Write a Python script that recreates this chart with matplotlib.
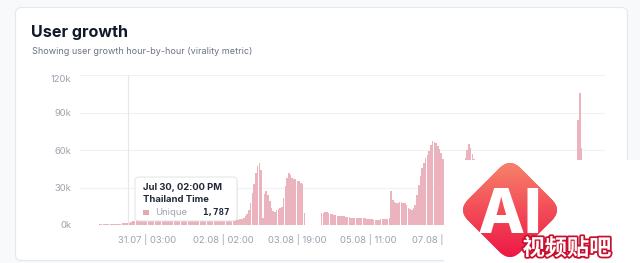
import numpy as np
import matplotlib.pyplot as plt
from matplotlib.patches import FancyBboxPatch, Rectangle
from matplotlib.transforms import Affine2D
import matplotlib.patheffects as pe

plt.rcParams['font.family'] = ['Inter', 'DejaVu Sans']

# hourly unique users (one value per bar)
unique_users = [
    0, 0, 0, 0, 0, 0, 0, 200, 300, 300,
    400, 500, 600, 600, 700, 700, 800, 800, 900, 800,
    900, 1000, 1000, 1100, 1300, 1400, 1600, 1787, 2000, 2400,
    2900, 3300, 3500, 3600, 3400, 3700, 3900, 3600, 3400, 3800,
    4000, 3700, 3500, 3300, 3600, 3900, 4100, 3800, 3600, 3400,
    3200, 3500, 3800, 4200, 4000, 3700, 3500, 3300, 3100, 3400,
    3800, 4100, 4300, 4000, 3700, 3500, 3300, 3600, 3900, 4200,
    4400, 4100, 3800, 3600, 3900, 4200, 4500, 4300, 4000, 3800,
    4100, 4400, 4700, 4500, 4200, 4000, 4300, 4600, 4800, 4500,
    4400, 4200, 4600, 5000, 5600, 7000, 8500, 12000, 18000, 26000,
    33000, 42000, 47000, 49600, 44000, 6000, 25000, 27000, 24000, 19000,
    14000, 11000, 10500, 12000, 12500, 13500, 14500, 22000, 31000, 38000,
    41600, 40000, 38000, 37000, 36500, 35000, 35500, 34000, 33000, 10000,
    0, 0, 0, 0, 0, 0, 0, 0, 0, 9600,
    10000, 10200, 10400, 10000, 9200, 8500, 8200, 7900, 7600, 7400,
    7200, 7200, 7000, 6800, 6500, 6200, 6000, 5800, 5700, 5600,
    5600, 5500, 5600, 5600, 5400, 5200, 5000, 4800, 4500, 4200,
    4000, 4000, 4200, 4500, 4700, 4800, 5000, 5200, 5600, 27000,
    20000, 18500, 17600, 17800, 18400, 18600, 18000, 17600, 16000, 14000,
    13000, 12000, 13500, 16000, 24000, 32000, 39000, 45600, 50000, 53600,
    56000, 59000, 64000, 67000, 66500, 66000, 63000, 61000, 57600, 53000,
    50000, 48000, 46000, 44000, 42000, 40000, 41000, 43000, 45000, 47000,
    49000, 51000, 54000, 60000, 65000, 62000, 57000, 53000, 48000, 45000,
    42000, 40000, 38000, 36000, 35000, 34000, 33000, 32000, 31000, 30000,
    29000, 28000, 28500, 29000, 30000, 31000, 30000, 29000, 28000, 27000,
    26000, 25000, 24000, 23000, 22000, 21000, 20000, 19500, 19000, 18500,
    18000, 17500, 17000, 16500, 16000, 15500, 15000, 14500, 14000, 13500,
    13000, 12800, 12500, 12200, 12000, 11800, 11500, 11200, 11000, 10800,
    10500, 10400, 10200, 10000, 12000, 18000, 35000, 84000, 106000, 62000,
    40000, 25000, 15000, 12000, 10000, 9000, 8500, 8000, 7500, 7000,
    6500, 6000, 5500,
]
tick_index = [38, 82, 125, 166, 208]
tick_labels = ['31.07 | 03:00', '02.08 | 02:00', '03.08 | 19:00', '05.08 | 11:00', '07.08 | 21:00']
y_ticks = [0, 30000, 60000, 90000, 120000]
y_labels = ['0k', '30k', '60k', '90k', '120k']
hover_index = 27

W, H = 640, 263
fig = plt.figure(figsize=(6.4, 2.63), dpi=100)
fig.patch.set_facecolor('#f8f9fb')

# card background and titles, in pixel coords
bg = fig.add_axes([0, 0, 1, 1], zorder=0)
bg.set_xlim(0, W)
bg.set_ylim(H, 0)
bg.axis('off')
bg.add_patch(FancyBboxPatch((15.5, 7.5), 612, 253, boxstyle='round,pad=0,rounding_size=6',
                            fc='white', ec='#e5e7eb', lw=0.8))
bg.text(31, 37.3, 'User growth', fontsize=11.6, fontweight='bold', color='#111827', va='baseline')
bg.text(32, 54.5, 'Showing user growth hour-by-hour (virality metric)', fontsize=6.5,
        color='#6b7280', va='baseline')

# the bar chart
ax = fig.add_axes([80 / W, 1 - 225 / H, 525 / W, 150 / H], zorder=1)
ax.set_facecolor('none')
x = np.arange(len(unique_users))
ax.bar(x, unique_users, width=0.9, color='#eab3bd', lw=0, zorder=3)
ax.axvline(hover_index, color='#e5e7eb', lw=0.8, zorder=1)
ax.set_xlim(-0.5, len(unique_users) - 0.5)
ax.set_ylim(0, 120000)
ax.set_yticks(y_ticks, y_labels)
ax.set_xticks(tick_index, tick_labels)
ax.tick_params(length=0, labelsize=6.8, labelcolor='#9ca3af')
ax.tick_params(axis='y', pad=6)
ax.tick_params(axis='x', pad=6.3)
ax.grid(axis='y', color='#f0f1f3', lw=0.8, zorder=0)
ax.set_axisbelow(True)
for s in ax.spines.values():
    s.set_visible(False)
ax.get_yticklabels()[-1].set_va('top')

# tooltip + watermark overlay
ov = fig.add_axes([0, 0, 1, 1], zorder=2)
ov.set_xlim(0, W)
ov.set_ylim(H, 0)
ov.axis('off')
ov.add_patch(FancyBboxPatch((136, 179), 102, 43, boxstyle='round,pad=0,rounding_size=4',
                            fc='black', alpha=0.05, ec='none'))
ov.add_patch(FancyBboxPatch((135, 177), 102, 44, boxstyle='round,pad=0,rounding_size=4',
                            fc='white', ec='#e5e7eb', lw=0.8))
ov.text(143, 190, 'Jul 30, 02:00 PM', fontsize=6.8, fontweight='bold', color='#1f2937', va='baseline')
ov.text(143, 201.5, 'Thailand Time', fontsize=6.8, fontweight='bold', color='#1f2937', va='baseline')
ov.add_patch(Rectangle((143.3, 209.5), 6, 5, fc='#e4a8b3', ec='none'))
ov.text(155, 215, 'Unique', fontsize=6.8, color='#9ca3af', va='baseline')
ov.text(230, 215, f'{unique_users[hover_index]:,}', family='DejaVu Sans Mono', fontweight='bold',
        fontsize=6.6, color='#1f2937', ha='right', va='baseline')

ov.add_patch(Rectangle((444, 160), 196, 103, fc='white', ec='none', zorder=2))
cx, cy = 510, 210
logo = FancyBboxPatch((cx - 37, cy - 37), 74, 74, boxstyle='round,pad=0,rounding_size=15',
                      fc='#f3405a', ec='none', zorder=3,
                      transform=Affine2D().rotate_deg_around(cx, cy, 45) + ov.transData)
ov.add_patch(logo)
top = np.array([0.97, 0.52, 0.42])
bot = np.array([0.93, 0.08, 0.27])
grad = np.linspace(0, 1, 100)[:, None, None]
im = ov.imshow(top + (bot - top) * grad, extent=(cx - 50, cx + 50, cy + 50, cy - 50),
               aspect='auto', zorder=3)
im.set_clip_path(logo)
ov.set_xlim(0, W)
ov.set_ylim(H, 0)
ov.text(cx, 233, 'AI', fontsize=44, fontweight='heavy', color='white', ha='center', va='baseline', zorder=4)
ov.text(567, 255, '视频贴吧', family=['Noto Sans CJK SC'], fontsize=16, fontweight='bold', color='white',
        ha='center', va='baseline', zorder=5,
        path_effects=[pe.withStroke(linewidth=2.5, foreground='#c8102e')])

fig.savefig('out.png', dpi=100, facecolor=fig.get_facecolor())
